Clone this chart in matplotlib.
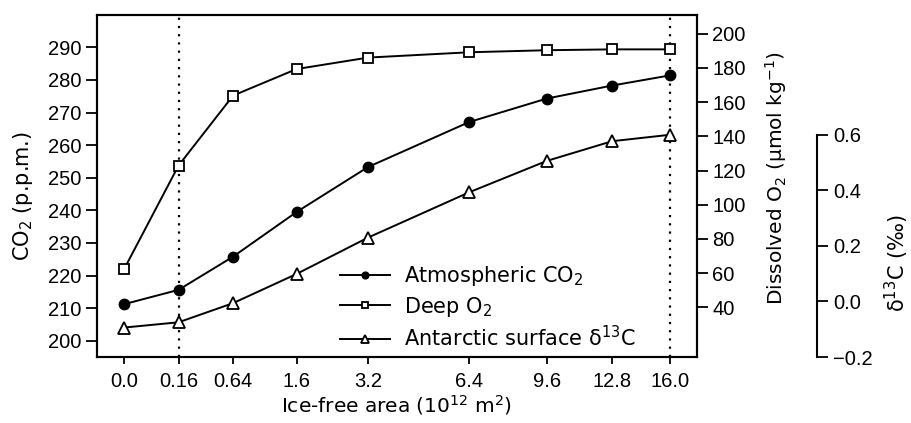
import numpy as np
import matplotlib
matplotlib.use("Agg")
import matplotlib.pyplot as plt

plt.rcParams["font.family"] = ["Liberation Sans", "DejaVu Sans"]
plt.rcParams["mathtext.fontset"] = "dejavusans"

# ice-free area (10^12 m^2), axis is square-root spaced
area = [0.0, 0.16, 0.64, 1.6, 3.2, 6.4, 9.6, 12.8, 16.0]
area_labels = ["0.0", "0.16", "0.64", "1.6", "3.2", "6.4", "9.6", "12.8", "16.0"]
co2 = [211.2, 215.6, 225.8, 239.5, 253.3, 267.1, 274.3, 278.3, 281.4]
deep_o2 = [62.2, 122.9, 163.8, 179.3, 186.0, 189.1, 190.3, 190.8, 190.8]
d13c = [-0.094, -0.075, -0.006, 0.099, 0.230, 0.393, 0.506, 0.577, 0.600]
dotted_at = [0.16, 16.0]

TFS = 14.5          # tick labels
LFS = 15            # axis labels / legend
LBL = ["DejaVu Sans"]
fwd = lambda x: np.sign(x) * np.sqrt(np.abs(x))
inv = lambda y: np.sign(y) * y ** 2

fig = plt.figure(figsize=(9.12, 4.23), dpi=100)
ax = fig.add_axes([0.106, 0.156, 0.658, 0.809])
ax.set_xscale("function", functions=(fwd, inv))
ax.set_xlim(-0.04, 17.62)

for xv in dotted_at:
    ax.axvline(xv, color="black", linestyle=(0, (1, 2.7)), linewidth=1.6, zorder=1)

l1, = ax.plot(area, co2, color="black", lw=1.4, marker="o", ms=7.5,
              mfc="black", mec="black", label="Atmospheric CO$_2$", zorder=3)
ax.set_ylim(195, 300)
ax.set_yticks(range(200, 291, 10))
ax.set_xticks(area)
ax.set_xticklabels(area_labels)
ax.minorticks_off()
ax.set_ylabel("CO$_2$ (p.p.m.)", fontsize=LFS, family=LBL)
ax.yaxis.set_label_coords(-0.103, 0.47)
ax.set_xlabel("Ice-free area (10$^{12}$ m$^2$)", fontsize=14.5, family=LBL, labelpad=1)
ax.tick_params(axis="both", labelsize=TFS, width=1.3, direction="out")
ax.tick_params(axis="y", length=8, pad=3)
ax.tick_params(axis="x", length=5, pad=6)

ax2 = ax.twinx()
l2, = ax2.plot(area, deep_o2, color="black", lw=1.4, marker="s", ms=7,
               mfc="white", mec="black", mew=1.3, label="Deep O$_2$", zorder=3)
ax2.set_ylim(11, 211)
ax2.set_yticks(range(40, 201, 20))
ax2.set_ylabel("Dissolved O$_2$ (\u00b5mol kg$^{-1}$)", fontsize=14.5, family=LBL)
ax2.yaxis.set_label_coords(1.11, 0.523)
ax2.tick_params(axis="y", labelsize=TFS, width=1.3, length=8, pad=3, direction="out")

ax3 = ax.twinx()
ax3.spines["right"].set_position(("axes", 1.2))
ax3.spines["right"].set_bounds(-0.2, 0.6)
for s in ["left", "top", "bottom"]:
    ax3.spines[s].set_visible(False)
l3, = ax3.plot(area, d13c, color="black", lw=1.4, marker="^", ms=8,
               mfc="white", mec="black", mew=1.3,
               label="Antarctic surface \u03b4$^{13}$C", zorder=3)
ax3.set_ylim(-0.2, 1.032)
ax3.set_yticks([-0.2, 0.0, 0.2, 0.4, 0.6])
ax3.set_yticklabels(["\u22120.2", "0.0", "0.2", "0.4", "0.6"])
ax3.set_ylabel("\u03b4$^{13}$C (\u2030)", fontsize=LFS, family=LBL)
ax3.yaxis.set_label_coords(1.31, 0.275)
ax3.tick_params(axis="y", labelsize=TFS, width=1.3, length=8, pad=4, direction="out")

for a in (ax, ax2, ax3):
    for s in a.spines.values():
        s.set_linewidth(1.5)

ax.legend(handles=[l1, l2, l3], loc="lower left", bbox_to_anchor=(0.405, 0.02),
          frameon=False, prop={"family": LBL, "size": LFS}, markerscale=0.65,
          handlelength=2.4, handletextpad=0.7, labelspacing=0.3,
          borderpad=0, borderaxespad=0)

fig.savefig("out.png", dpi=100)
